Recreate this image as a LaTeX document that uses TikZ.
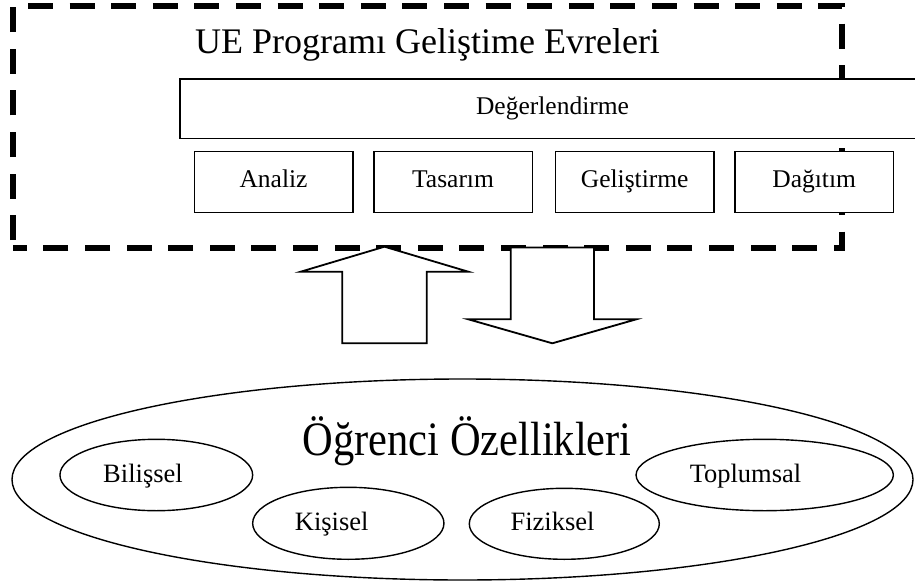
\documentclass[tikz,border=0pt]{standalone}
\usepackage{fontspec}
\setmainfont{Liberation Serif}
\usetikzlibrary{shapes.geometric}
\begin{document}
\begin{tikzpicture}[x=1pt,y=-1pt,
  framestyle/.style={line width=5.5pt, dash pattern=on 25pt off 16.6pt, dash phase=33.6pt, line cap=butt},
  phasebox/.style={draw, fill=white, line width=1.5pt, rectangle, inner sep=0pt,
     font=\fontsize{25.5}{30}\selectfont},
  oval/.style={draw, ellipse, line width=1.4pt, inner sep=0pt},
  lbl/.style={anchor=base, inner sep=0pt, font=\fontsize{26.5}{30}\selectfont},
  blockarrow/.style={draw, fill=white, line width=1.8pt, line join=miter}]
\useasboundingbox (0,0) rectangle (915,583);
\clip (0,0) rectangle (915,583);

% dashed frame
\node[rectangle, inner sep=0pt, minimum width=829pt, minimum height=242pt] (frame) at (427.5,127) {};
\draw[framestyle] (frame.south west) -- (frame.north west) -- (frame.north east)
   -- (frame.south east) -- cycle;

% title
\node[anchor=base, inner sep=0pt, font=\fontsize{36}{42}\selectfont] (title) at (427.5,53.3)
  {UE Programı Geliştime Evreleri};

% evaluation bar
\node[phasebox, minimum width=745pt, minimum height=59.5pt, text height=19pt, text depth=6.5pt]
  (deg) at (552.5,108.75) {Değerlendirme};

% phase boxes
\tikzset{pb/.style={phasebox, minimum width=158.5pt, minimum height=61pt, text height=18pt, text depth=7pt}}
\node[pb] (analiz) at (273.5,182.2) {Analiz};
\node[pb] (tasarim) at (453,182.2) {Tasarım};
\node[pb] (gelistirme) at (634.7,182.2) {Geliştirme};
\node[pb] (dagitim) at (814.2,182.2) {Dağıtım};

% block arrows
\draw[blockarrow] (342.3,343.3) -- (342.3,271.7) -- (300.7,271.7) -- (384.5,246.7)
   -- (468.3,271.7) -- (426.7,271.7) -- (426.7,343.3) -- cycle;
\draw[blockarrow] (510.7,247.5) -- (510.7,319.3) -- (468.3,319.3) -- (552.3,343.3)
   -- (636.3,319.3) -- (594,319.3) -- (594,247.5) -- cycle;

% student characteristics
\node[oval, minimum width=901pt, minimum height=201pt] (ogrenci) at (462.5,479.5) {};
\node[anchor=base, inner sep=0pt] (ogtitle) at (467.2,455)
  {\scalebox{0.885}[1]{\fontsize{48}{56}\selectfont Öğrenci Özellikleri}};

\node[oval, minimum width=192.7pt, minimum height=71.4pt] (bil) at (156.3,475) {};
\node[oval, minimum width=191.3pt, minimum height=72pt] (kis) at (348.3,523.3) {};
\node[oval, minimum width=190pt, minimum height=71pt] (fiz) at (564.3,523.8) {};
\node[oval, minimum width=257.3pt, minimum height=71.4pt] (top) at (764.7,475) {};

\node[lbl] (bilt) at (143,482.7) {Bilişsel};
\node[lbl] (kist) at (331.7,530.7) {Kişisel};
\node[lbl] (fizt) at (552.5,530.7) {Fiziksel};
\node[lbl] (topt) at (745.5,482.7) {Toplumsal};
\end{tikzpicture}
\end{document}
